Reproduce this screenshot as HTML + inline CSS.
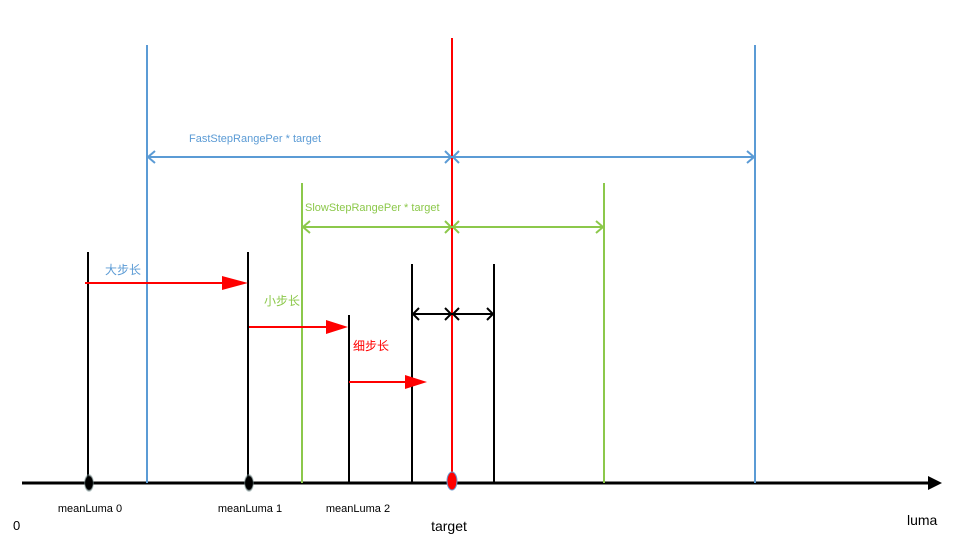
<!DOCTYPE html>
<html><head><meta charset="utf-8"><style>
html,body{margin:0;padding:0;background:#fff;}
svg{display:block;}
text{font-family:"Liberation Sans","Noto Sans CJK SC",sans-serif;}
</style></head><body>
<svg width="953" height="540" viewBox="0 0 953 540" xmlns="http://www.w3.org/2000/svg">
<defs>
<radialGradient id="g" cx="0.5" cy="0.5" r="0.5"><stop offset="0.7" stop-color="#000"/><stop offset="1" stop-color="#9bb" stop-opacity="0.3"/></radialGradient>
</defs>
<!-- axis -->
<line x1="22" y1="483" x2="930" y2="483" stroke="#000" stroke-width="3"/>
<polygon points="928,476 942,483 928,490" fill="#000"/>
<!-- verticals -->
<g stroke-width="2">
<line x1="88" y1="252" x2="88" y2="483" stroke="#000"/>
<line x1="147" y1="45" x2="147" y2="483" stroke="#5b9bd5"/>
<line x1="248" y1="252" x2="248" y2="483" stroke="#000"/>
<line x1="302" y1="183" x2="302" y2="483" stroke="#8cc84b"/>
<line x1="349" y1="315" x2="349" y2="483" stroke="#000"/>
<line x1="412" y1="264" x2="412" y2="483" stroke="#000"/>
<line x1="494" y1="264" x2="494" y2="483" stroke="#000"/>
<line x1="604" y1="183" x2="604" y2="483" stroke="#8cc84b"/>
<line x1="755" y1="45" x2="755" y2="483" stroke="#5b9bd5"/>
<line x1="452" y1="38" x2="452" y2="488" stroke="#ff0000"/>
</g>
<!-- blue dimension -->
<g stroke="#5b9bd5" stroke-width="2" fill="none">
<line x1="148" y1="157" x2="754" y2="157"/>
<polyline points="155,151 148,157 155,163"/>
<polyline points="445,151 451,157 445,163"/>
<polyline points="459,151 453,157 459,163"/>
<polyline points="747,151 754,157 747,163"/>
</g>
<text x="189" y="142" font-size="11" fill="#5b9bd5">FastStepRangePer * target</text>
<!-- green dimension -->
<g stroke="#8cc84b" stroke-width="2" fill="none">
<line x1="303" y1="227" x2="603" y2="227"/>
<polyline points="310,221 303,227 310,233"/>
<polyline points="445,221 451,227 445,233"/>
<polyline points="459,221 453,227 459,233"/>
<polyline points="596,221 603,227 596,233"/>
</g>
<text x="305" y="211" font-size="11" fill="#8cc84b">SlowStepRangePer * target</text>
<!-- black dimension -->
<g stroke="#000" stroke-width="2" fill="none">
<line x1="413" y1="314" x2="493" y2="314"/>
<polyline points="419,308 413,314 419,320"/>
<polyline points="445,308 451,314 445,320"/>
<polyline points="459,308 453,314 459,320"/>
<polyline points="487,308 493,314 487,320"/>
</g>
<!-- red arrows -->
<line x1="85" y1="283" x2="225" y2="283" stroke="#ff0000" stroke-width="2"/>
<polygon points="222,276 248,283 222,290" fill="#ff0000"/>
<line x1="249" y1="327" x2="326" y2="327" stroke="#ff0000" stroke-width="2"/>
<polygon points="326,320 348,327 326,334" fill="#ff0000"/>
<line x1="349" y1="382" x2="406" y2="382" stroke="#ff0000" stroke-width="2"/>
<polygon points="405,375 427,382 405,389" fill="#ff0000"/>
<!-- labels -->
<text x="105" y="274" font-size="12" fill="#5b9bd5">大步长</text>
<text x="264" y="305" font-size="12" fill="#8cc84b">小步长</text>
<text x="353" y="350" font-size="12" fill="#ff0000">细步长</text>
<!-- dots -->
<ellipse cx="89" cy="483" rx="5" ry="9" fill="url(#g)"/>
<ellipse cx="249" cy="483" rx="5" ry="9" fill="url(#g)"/>
<ellipse cx="452" cy="481" rx="5" ry="9" fill="#ff0000" stroke="#6a9ad0" stroke-width="1"/>
<!-- axis labels -->
<text x="90" y="512" font-size="11" fill="#000" text-anchor="middle">meanLuma 0</text>
<text x="250" y="512" font-size="11" fill="#000" text-anchor="middle">meanLuma 1</text>
<text x="358" y="512" font-size="11" fill="#000" text-anchor="middle">meanLuma 2</text>
<text x="449" y="531" font-size="14" fill="#000" text-anchor="middle">target</text>
<text x="13" y="530" font-size="13" fill="#000">0</text>
<text x="907" y="525" font-size="14" fill="#000">luma</text>
</svg>
</body></html>
